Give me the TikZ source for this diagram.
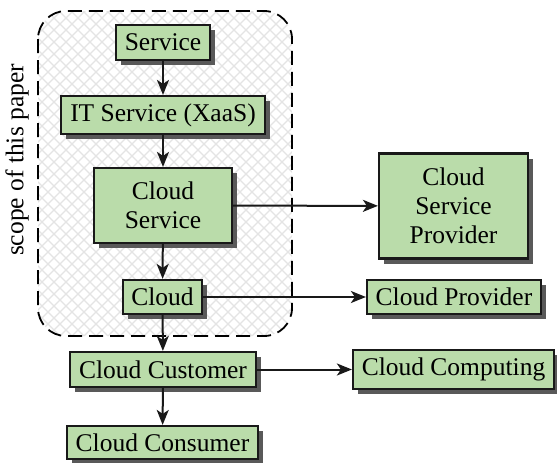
\documentclass[tikz,border=0pt]{standalone}
\usepackage{fontspec}
\setmainfont{Liberation Serif}
\usetikzlibrary{arrows.meta,shadows}
\definecolor{boxgreen}{RGB}{186,220,170}
\definecolor{hatch}{RGB}{228,228,228}
\begin{document}
\begin{tikzpicture}[x=1pt,y=-1pt,
  every node/.style={font=\fontsize{25.5}{29}\selectfont},
  gbox/.style={draw=black!90, line width=2.2pt, fill=boxgreen, inner sep=0pt,
    align=center, drop shadow={shadow xshift=5pt, shadow yshift=-5pt, fill=black!65, opacity=1}},
  arr/.style={line width=2pt, draw=black!90, -{Stealth[length=15pt,width=12pt,inset=4pt]}},
  scopebox/.style={dashed, dash pattern=on 14pt off 7pt, line width=1.8pt, rounded corners=28pt}
]
\useasboundingbox (0,0) rectangle (557,463);
% scope region with crosshatch
\begin{scope}
\clip[rounded corners=28pt] (38,11) rectangle (292,336);
\fill[white] (38,11) rectangle (292,336);
\foreach \c in {-420,-408,...,760} {
  \draw[hatch, line width=1.4pt] (\c,0) -- ++(420,420);
  \draw[hatch, line width=1.4pt] (\c,0) -- ++(-420,420);
}
\end{scope}
\draw[scopebox] (38,11) rectangle (292,336);
\node[rotate=90] (scopelbl) at (17,160) {scope of this paper};

\node[gbox, minimum width=94pt, minimum height=35pt] (svc) at (163,42.5) {Service};
\node[gbox, minimum width=204pt, minimum height=38pt] (it) at (163,115) {IT Service (XaaS)};
\node[gbox, minimum width=138pt, minimum height=75pt] (cs) at (163,205.5) {Cloud\\Service};
\node[gbox, minimum width=79pt, minimum height=34pt] (cl) at (162.5,297) {Cloud};
\node[gbox, minimum width=186pt, minimum height=35pt] (cc) at (163,369.5) {Cloud Customer};
\node[gbox, minimum width=191pt, minimum height=33pt] (ccons) at (162.5,442.5) {Cloud Consumer};
\node[gbox, minimum width=149pt, minimum height=105pt] (csp) at (453.5,206) {Cloud\\Service\\Provider};
\node[gbox, minimum width=174pt, minimum height=34pt] (cp) at (454,297) {Cloud Provider};
\node[gbox, minimum width=201pt, minimum height=39pt] (ccomp) at (453.5,369.5) {Cloud Computing};

\draw[arr] (svc) -- (it);
\draw[arr] (it) -- (cs);
\draw[arr] (cs) -- (cl);
\draw[arr] (cl) -- (cc);
\draw[arr] (cc) -- (ccons);
\draw[arr] (cs) -- (csp);
\draw[arr] (cl) -- (cp);
\draw[arr] (cc) -- (ccomp);
\end{tikzpicture}
\end{document}
